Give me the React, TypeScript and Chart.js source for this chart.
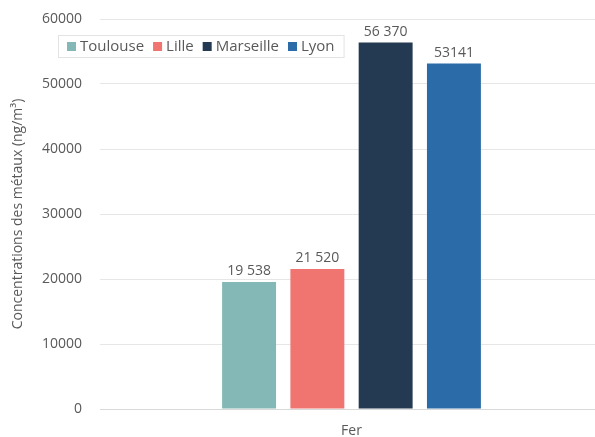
import React, { useEffect, useRef } from "react";
import { Chart, registerables } from "chart.js";

Chart.register(...registerables);

const categories = ["Fer"];
const seriesNames = ["Toulouse", "Lille", "Marseille", "Lyon"];
const seriesValues = [19538, 21520, 56370, 53141];
const valueLabels = ["19 538", "21 520", "56 370", "53141"];
const seriesColors = ["#84B8B7", "#F07470", "#243A52", "#2B6BA8"];
const yTicks = [0, 10000, 20000, 30000, 40000, 50000, 60000];

const FONT = "'Open Sans', 'Noto Sans', sans-serif";
const TEXT = "#595959";

const labelPlugin = {
  id: "valueLabels",
  afterDatasetsDraw(chart: any) {
    const ctx = chart.ctx;
    ctx.save();
    ctx.font = `14px ${FONT}`;
    ctx.fillStyle = TEXT;
    ctx.textAlign = "center";
    ctx.textBaseline = "bottom";
    chart.data.datasets.forEach((ds: any, i: number) => {
      const meta = chart.getDatasetMeta(i);
      meta.data.forEach((el: any) => {
        ctx.fillText(valueLabels[i], el.x, el.y - 4);
      });
    });
    ctx.restore();
  },
};

const legendPlugin = {
  id: "boxLegend",
  afterDraw(chart: any) {
    const ctx = chart.ctx;
    ctx.save();
    ctx.font = `15px ${FONT}`;
    const x0 = 58;
    const y0 = 35;
    const h = 22;
    const sq = 9;
    const gapAfterSq = 4;
    const gapItem = 9;
    let w = 9;
    const widths = seriesNames.map((n) => ctx.measureText(n).width);
    widths.forEach((tw: number) => {
      w += sq + gapAfterSq + tw + gapItem;
    });
    ctx.fillStyle = "#ffffff";
    ctx.fillRect(x0, y0, w, h);
    ctx.strokeStyle = "#E3E3E3";
    ctx.lineWidth = 1;
    ctx.strokeRect(x0 + 0.5, y0 + 0.5, w, h);
    let x = x0 + 9;
    const cy = y0 + h / 2 + 0.5;
    ctx.textBaseline = "middle";
    ctx.textAlign = "left";
    seriesNames.forEach((n, i) => {
      ctx.fillStyle = seriesColors[i];
      ctx.fillRect(x, cy - sq / 2, sq, sq);
      x += sq + gapAfterSq;
      ctx.fillStyle = TEXT;
      ctx.fillText(n, x, cy);
      x += widths[i] + gapItem;
    });
    ctx.restore();
  },
};

export default function App() {
  const ref = useRef<HTMLCanvasElement>(null);
  useEffect(() => {
    document.body.style.margin = "0";
    document.body.style.overflow = "hidden";
    const chart = new Chart(ref.current!, {
      type: "bar",
      data: {
        labels: categories,
        datasets: seriesNames.map((name, i) => ({
          label: name,
          data: [seriesValues[i]],
          backgroundColor: seriesColors[i],
          borderWidth: 0,
          barPercentage: 0.79,
          categoryPercentage: 0.543,
        })),
      },
      options: {
        animation: false,
        responsive: false,
        layout: { padding: { top: 19, right: 0, left: 0, bottom: 0 } },
        plugins: {
          legend: { display: false },
          tooltip: { enabled: false },
        },
        scales: {
          x: {
            grid: { display: false, drawTicks: true },
            border: { color: "#D9D9D9" },
            ticks: { color: TEXT, font: { family: FONT, size: 14 }, padding: 6 },
            afterFit(scale: any) {
              scale.height = 28;
              scale.paddingLeft = 0;
              scale.paddingRight = 0;
            },
          },
          y: {
            min: 0,
            max: 60000,
            afterBuildTicks(scale: any) {
              scale.ticks = yTicks.map((v) => ({ value: v }));
            },
            grid: { color: "#E6E6E6", drawTicks: false },
            border: { display: false },
            ticks: {
              color: TEXT,
              font: { family: FONT, size: 14 },
              padding: 18,
              callback: (v: any) => String(v),
            },
            title: {
              display: true,
              text: "Concentrations des métaux (ng/m³)",
              color: TEXT,
              font: { family: FONT, size: 14 },
              padding: { top: 10, bottom: 0 },
            },
            afterFit(scale: any) {
              scale.width = 100;
              scale.paddingTop = 0;
              scale.paddingBottom = 0;
            },
          },
        },
      },
      plugins: [labelPlugin, legendPlugin],
    });
    return () => chart.destroy();
  }, []);
  return (
    <div style={{ width: 595, height: 437, overflow: "hidden" }}>
      <canvas ref={ref} width={603} height={437} style={{ display: "block" }} />
    </div>
  );
}
